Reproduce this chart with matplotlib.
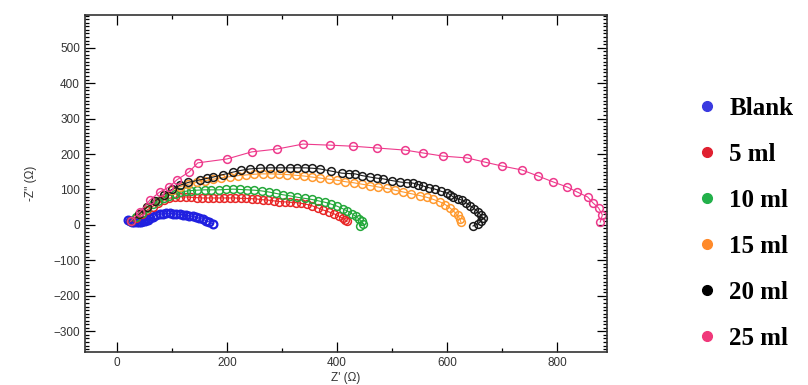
import matplotlib
matplotlib.use("Agg")
import matplotlib.pyplot as plt
from matplotlib.ticker import MultipleLocator
from matplotlib.lines import Line2D

labels = ["Blank", "5 ml", "10 ml", "15 ml", "20 ml", "25 ml"]
colors = ["#2020e0", "#e82626", "#24a83a", "#ff9a30", "#1a1a1a", "#ee3a8c"]
legend_colors = ["#3a3ae0", "#e02030", "#22b04a", "#ff8a2a", "#000000", "#f0387a"]

blank_x = [20, 24, 28, 32, 36, 40, 44, 48, 52, 56, 60, 66, 72, 78, 84, 90, 96, 102, 108,
           114, 120, 126, 132, 138, 144, 150, 156, 162, 168, 174]
blank_y = [14, 11, 9, 8, 8, 8, 9, 10, 12, 15, 19, 23, 27, 30, 32, 33, 33, 32, 31,
           30, 29, 27, 26, 24, 22, 19, 16, 12, 8, 3]

ml5_x = [25, 35, 45, 55, 65, 75, 85, 95, 105, 115, 125, 135, 145, 155, 165, 175, 185, 195,
         205, 215, 225, 235, 245, 255, 265, 275, 285, 295, 305, 315, 325, 335, 345, 355,
         365, 375, 385, 395, 403, 410, 415, 418]
ml5_y = [10, 20, 30, 42, 52, 62, 70, 75, 78, 79, 79, 78, 77, 76, 76, 76, 76, 76,
         76, 76, 75, 75, 74, 73, 71, 70, 68, 66, 65, 64, 63, 61, 58, 54,
         48, 42, 37, 31, 25, 19, 14, 10]

ml10_x = [25, 35, 45, 55, 65, 75, 85, 95, 105, 115, 125, 135, 145, 160, 172, 185, 198, 211,
          224, 237, 250, 263, 276, 289, 302, 315, 328, 341, 354, 366, 378, 389, 400, 410,
          419, 427, 434, 440, 445, 447, 442]
ml10_y = [10, 22, 35, 48, 60, 68, 76, 83, 88, 92, 95, 97, 98, 99, 99, 99, 100, 101,
          100, 99, 98, 96, 93, 89, 85, 82, 78, 75, 72, 68, 64, 59, 53, 46,
          39, 32, 24, 17, 10, 4, -2]

ml15_x = [25, 40, 55, 70, 85, 100, 115, 130, 145, 160, 175, 190, 205, 220, 235, 250, 265,
          280, 295, 310, 325, 340, 355, 370, 385, 400, 415, 430, 445, 460, 475, 490, 505,
          520, 535, 550, 563, 575, 587, 597, 606, 613, 619, 623, 625]
ml15_y = [10, 30, 50, 68, 85, 98, 108, 115, 120, 125, 129, 133, 136, 139, 141, 143, 144,
          144, 143, 142, 140, 138, 135, 132, 129, 126, 122, 119, 115, 111, 107, 103, 98,
          93, 88, 83, 78, 72, 65, 57, 47, 37, 27, 17, 8]

ml20_x = [25, 40, 55, 70, 85, 100, 115, 130, 151, 163, 175, 193, 211, 226, 242, 260, 278,
          296, 315, 328, 342, 355, 369, 389, 409, 421, 433, 446, 460, 472, 484, 500, 515,
          527, 538, 547, 556, 567, 578, 589, 600, 606, 611, 619, 627, 635, 642, 649, 656,
          661, 665, 662, 656, 647]
ml20_y = [10, 30, 50, 68, 85, 100, 112, 120, 127, 131, 135, 142, 149, 154, 158, 160, 161,
          161, 161, 161, 161, 160, 158, 152, 146, 145, 144, 139, 135, 132, 130, 125, 121,
          119, 118, 114, 110, 105, 101, 95, 90, 85, 79, 74, 70, 62, 54, 46, 37,
          28, 20, 11, 3, -3]

ml25_x = [25, 42, 60, 78, 95, 109, 131, 147, 200, 245, 291, 338, 387, 429, 473, 524, 556,
          593, 636, 669, 700, 736, 765, 793, 818, 836, 855, 865, 875, 882, 878]
ml25_y = [10, 37, 70, 93, 107, 127, 149, 175, 186, 206, 214, 228, 225, 222, 217, 211, 203,
          194, 189, 177, 166, 155, 138, 121, 107, 93, 79, 62, 48, 28, 8]

series = [(blank_x, blank_y), (ml5_x, ml5_y), (ml10_x, ml10_y),
          (ml15_x, ml15_y), (ml20_x, ml20_y), (ml25_x, ml25_y)]

fig = plt.figure(figsize=(8.08, 3.85), dpi=100)
ax = fig.add_axes([0.105, 0.086, 0.646, 0.875])

for i, ((xs, ys), c, lab) in enumerate(zip(series, colors, labels)):
    ax.plot(xs, ys, '-', color=c, lw=0.8, marker='o', ms=5.6, mfc='none',
            mec=c, mew=1.6 if i == 0 else 1.1, label=lab)

ax.set_xlim(-58, 890)
ax.set_ylim(-358, 592)
ax.xaxis.set_major_locator(MultipleLocator(200))
ax.xaxis.set_minor_locator(MultipleLocator(100))
ax.yaxis.set_major_locator(MultipleLocator(100))
ax.yaxis.set_minor_locator(MultipleLocator(10))
ax.set_yticks([-300, -200, -100, 0, 100, 200, 300, 400, 500])
ax.tick_params(which='both', direction='in', top=True, right=True,
               labelsize=8.5, labelcolor='#333333', width=0.9)
ax.tick_params(which='major', length=7)
ax.tick_params(which='minor', length=3)
for lab in ax.get_xticklabels() + ax.get_yticklabels():
    lab.set_family('Liberation Sans')
for s in ax.spines.values():
    s.set_linewidth(1.2)
    s.set_color('#333333')

ax.set_xlabel("Z' (Ω)", fontsize=8.5, family='Liberation Sans', color='#333333', labelpad=2)
ax.set_ylabel("-Z'' (Ω)", fontsize=8.5, family='Liberation Sans', color='#333333', labelpad=12)

handles = [Line2D([], [], ls='none', marker='o', ms=7, color=c) for c in legend_colors]
leg = fig.legend(handles, labels, loc='upper left', bbox_to_anchor=(0.853, 0.775),
                 frameon=False, prop={'family': 'Liberation Serif', 'weight': 'bold', 'size': 18},
                 handlelength=0.6, handletextpad=0.6, labelspacing=0.92, borderaxespad=0)

fig.savefig("out.png", dpi=100)
